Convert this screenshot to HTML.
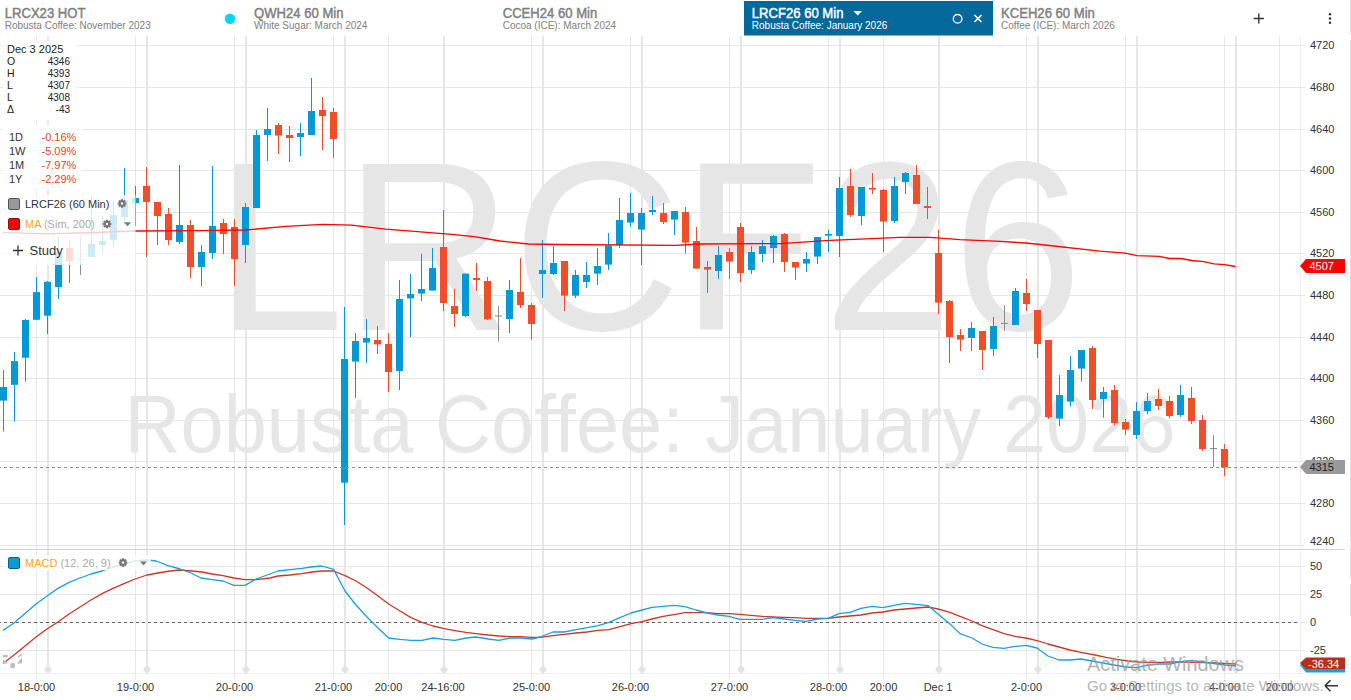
<!DOCTYPE html>
<html><head><meta charset="utf-8"><title>LRCF26 chart</title>
<style>html,body{margin:0;padding:0;background:#fff;overflow:hidden;width:1351px;height:700px}svg{display:block}</style>
</head><body>
<svg width="1351" height="700" viewBox="0 0 1351 700" font-family='"Liberation Sans", sans-serif'>
<rect width="1351" height="700" fill="#fff"/>
<line x1="0" y1="45.5" x2="1305" y2="45.5" stroke="#e6e6e6" stroke-width="1"/>
<line x1="0" y1="87.5" x2="1305" y2="87.5" stroke="#e6e6e6" stroke-width="1"/>
<line x1="0" y1="129.5" x2="1305" y2="129.5" stroke="#e6e6e6" stroke-width="1"/>
<line x1="0" y1="170.5" x2="1305" y2="170.5" stroke="#e6e6e6" stroke-width="1"/>
<line x1="0" y1="212.5" x2="1305" y2="212.5" stroke="#e6e6e6" stroke-width="1"/>
<line x1="0" y1="253.5" x2="1305" y2="253.5" stroke="#e6e6e6" stroke-width="1"/>
<line x1="0" y1="295.5" x2="1305" y2="295.5" stroke="#e6e6e6" stroke-width="1"/>
<line x1="0" y1="337.5" x2="1305" y2="337.5" stroke="#e6e6e6" stroke-width="1"/>
<line x1="0" y1="378.5" x2="1305" y2="378.5" stroke="#e6e6e6" stroke-width="1"/>
<line x1="0" y1="420.5" x2="1305" y2="420.5" stroke="#e6e6e6" stroke-width="1"/>
<line x1="0" y1="461.5" x2="1305" y2="461.5" stroke="#e6e6e6" stroke-width="1"/>
<line x1="0" y1="503.5" x2="1305" y2="503.5" stroke="#e6e6e6" stroke-width="1"/>
<line x1="0" y1="545.5" x2="1305" y2="545.5" stroke="#e6e6e6" stroke-width="1"/>
<line x1="0" y1="566.5" x2="1305" y2="566.5" stroke="#e6e6e6" stroke-width="1"/>
<line x1="0" y1="594.5" x2="1305" y2="594.5" stroke="#e6e6e6" stroke-width="1"/>
<line x1="0" y1="622.5" x2="1305" y2="622.5" stroke="#e6e6e6" stroke-width="1"/>
<line x1="0" y1="650.5" x2="1305" y2="650.5" stroke="#e6e6e6" stroke-width="1"/>
<line x1="0" y1="673.5" x2="1305" y2="673.5" stroke="#eeeeee" stroke-width="1"/>
<line x1="36.5" y1="36" x2="36.5" y2="679" stroke="#e6e6e6" stroke-width="1"/>
<line x1="135.5" y1="36" x2="135.5" y2="679" stroke="#e6e6e6" stroke-width="1"/>
<line x1="234.5" y1="36" x2="234.5" y2="679" stroke="#e6e6e6" stroke-width="1"/>
<line x1="333.5" y1="36" x2="333.5" y2="679" stroke="#e6e6e6" stroke-width="1"/>
<line x1="388.5" y1="36" x2="388.5" y2="679" stroke="#e6e6e6" stroke-width="1"/>
<line x1="531.5" y1="36" x2="531.5" y2="679" stroke="#e6e6e6" stroke-width="1"/>
<line x1="630.5" y1="36" x2="630.5" y2="679" stroke="#e6e6e6" stroke-width="1"/>
<line x1="729.5" y1="36" x2="729.5" y2="679" stroke="#e6e6e6" stroke-width="1"/>
<line x1="828.5" y1="36" x2="828.5" y2="679" stroke="#e6e6e6" stroke-width="1"/>
<line x1="883.5" y1="36" x2="883.5" y2="679" stroke="#e6e6e6" stroke-width="1"/>
<line x1="1026.5" y1="36" x2="1026.5" y2="679" stroke="#e6e6e6" stroke-width="1"/>
<line x1="1125.5" y1="36" x2="1125.5" y2="679" stroke="#e6e6e6" stroke-width="1"/>
<line x1="1224.5" y1="36" x2="1224.5" y2="679" stroke="#e6e6e6" stroke-width="1"/>
<line x1="1279.5" y1="36" x2="1279.5" y2="679" stroke="#e6e6e6" stroke-width="1"/>
<line x1="48" y1="36" x2="48" y2="670" stroke="#e6e6e6" stroke-width="2"/>
<path d="M48 665 L52 669.5 L48 674 L44 669.5Z" fill="#e3e3e3"/>
<line x1="147" y1="36" x2="147" y2="670" stroke="#e6e6e6" stroke-width="2"/>
<path d="M147 665 L151 669.5 L147 674 L143 669.5Z" fill="#e3e3e3"/>
<line x1="246" y1="36" x2="246" y2="670" stroke="#e6e6e6" stroke-width="2"/>
<path d="M246 665 L250 669.5 L246 674 L242 669.5Z" fill="#e3e3e3"/>
<line x1="345" y1="36" x2="345" y2="670" stroke="#e6e6e6" stroke-width="2"/>
<path d="M345 665 L349 669.5 L345 674 L341 669.5Z" fill="#e3e3e3"/>
<line x1="444" y1="36" x2="444" y2="670" stroke="#e6e6e6" stroke-width="2"/>
<path d="M444 665 L448 669.5 L444 674 L440 669.5Z" fill="#e3e3e3"/>
<line x1="543" y1="36" x2="543" y2="670" stroke="#e6e6e6" stroke-width="2"/>
<path d="M543 665 L547 669.5 L543 674 L539 669.5Z" fill="#e3e3e3"/>
<line x1="642" y1="36" x2="642" y2="670" stroke="#e6e6e6" stroke-width="2"/>
<path d="M642 665 L646 669.5 L642 674 L638 669.5Z" fill="#e3e3e3"/>
<line x1="741" y1="36" x2="741" y2="670" stroke="#e6e6e6" stroke-width="2"/>
<path d="M741 665 L745 669.5 L741 674 L737 669.5Z" fill="#e3e3e3"/>
<line x1="840" y1="36" x2="840" y2="670" stroke="#e6e6e6" stroke-width="2"/>
<path d="M840 665 L844 669.5 L840 674 L836 669.5Z" fill="#e3e3e3"/>
<line x1="939" y1="36" x2="939" y2="670" stroke="#e6e6e6" stroke-width="2"/>
<path d="M939 665 L943 669.5 L939 674 L935 669.5Z" fill="#e3e3e3"/>
<line x1="1038" y1="36" x2="1038" y2="670" stroke="#e6e6e6" stroke-width="2"/>
<path d="M1038 665 L1042 669.5 L1038 674 L1034 669.5Z" fill="#e3e3e3"/>
<line x1="1137" y1="36" x2="1137" y2="670" stroke="#e6e6e6" stroke-width="2"/>
<path d="M1137 665 L1141 669.5 L1137 674 L1133 669.5Z" fill="#e3e3e3"/>
<line x1="1236" y1="36" x2="1236" y2="670" stroke="#e6e6e6" stroke-width="2"/>
<path d="M1236 665 L1240 669.5 L1236 674 L1232 669.5Z" fill="#e3e3e3"/>
<line x1="1300.5" y1="36" x2="1300.5" y2="673" stroke="#f0f0f0" stroke-width="1"/>
<g transform="translate(0,330) scale(1,1.035)"><text x="214.7" y="0" font-size="233" fill="#e6e6e6">LRC</text><text x="823.2" y="0" font-size="233" fill="#e6e6e6">26</text></g><path d="M700.2 164.6 Q700.2 163.6 701.2 163.6 H811.9 Q812.9 163.6 812.9 164.6 V183.8 H723 V233.6 H799.8 Q800.8 233.6 800.8 234.6 V253.2 H723 V329.6 H700.2Z" fill="#e6e6e6"/><g transform="translate(0,452) scale(1,1.04)"><text x="650" y="0" font-size="77.6" fill="#e6e6e6" text-anchor="middle">Robusta Coffee: January 2026</text></g>
<line x1="0" y1="622.5" x2="1300" y2="622.5" stroke="#666" stroke-width="1" stroke-dasharray="3,3" stroke-dashoffset="2"/>
<line x1="0" y1="549.5" x2="1345" y2="549.5" stroke="#d4d4d4" stroke-width="1"/>
<rect x="3" y="370.0" width="1" height="61.5" fill="#0299d6"/>
<rect x="0" y="387.0" width="7" height="13.6" fill="#0299d6"/>
<rect x="14" y="352.2" width="1" height="69.5" fill="#0299d6"/>
<rect x="11" y="361.1" width="7" height="23.7" fill="#0299d6"/>
<rect x="25" y="318.9" width="1" height="62.8" fill="#0299d6"/>
<rect x="22" y="320.0" width="7" height="37.7" fill="#0299d6"/>
<rect x="36" y="277.1" width="1" height="42.7" fill="#0299d6"/>
<rect x="33" y="292.1" width="7" height="27.7" fill="#0299d6"/>
<rect x="47" y="281.2" width="1" height="52.9" fill="#0299d6"/>
<rect x="44" y="281.8" width="7" height="33.9" fill="#0299d6"/>
<rect x="58" y="237.0" width="1" height="61.9" fill="#0299d6"/>
<rect x="55" y="252.0" width="7" height="35.0" fill="#0299d6"/>
<rect x="69" y="240.0" width="1" height="43.0" fill="#f04e2b"/>
<rect x="66" y="248.0" width="7" height="13.0" fill="#f04e2b"/>
<rect x="80" y="236.0" width="1" height="39.0" fill="#8c8c8c"/>
<rect x="77" y="259.1" width="7" height="1" fill="#8c8c8c"/>
<rect x="91" y="197.0" width="1" height="60.0" fill="#0299d6"/>
<rect x="88" y="244.0" width="7" height="13.0" fill="#0299d6"/>
<rect x="102" y="216.0" width="1" height="38.0" fill="#0299d6"/>
<rect x="99" y="241.0" width="7" height="4.0" fill="#0299d6"/>
<rect x="113" y="201.0" width="1" height="45.0" fill="#0299d6"/>
<rect x="110" y="215.0" width="7" height="25.0" fill="#0299d6"/>
<rect x="124" y="168.0" width="1" height="57.0" fill="#0299d6"/>
<rect x="121" y="200.0" width="7" height="17.0" fill="#0299d6"/>
<rect x="135" y="186.0" width="1" height="40.0" fill="#0299d6"/>
<rect x="132" y="198.0" width="7" height="5.0" fill="#0299d6"/>
<rect x="146" y="167.0" width="1" height="90.0" fill="#f04e2b"/>
<rect x="143" y="186.0" width="7" height="16.0" fill="#f04e2b"/>
<rect x="157" y="202.0" width="1" height="43.0" fill="#f04e2b"/>
<rect x="154" y="202.0" width="7" height="14.0" fill="#f04e2b"/>
<rect x="168" y="208.0" width="1" height="37.0" fill="#f04e2b"/>
<rect x="165" y="214.0" width="7" height="26.0" fill="#f04e2b"/>
<rect x="179" y="165.0" width="1" height="79.0" fill="#0299d6"/>
<rect x="176" y="225.0" width="7" height="17.0" fill="#0299d6"/>
<rect x="190" y="220.0" width="1" height="58.0" fill="#f04e2b"/>
<rect x="187" y="225.0" width="7" height="42.0" fill="#f04e2b"/>
<rect x="201" y="245.0" width="1" height="41.0" fill="#0299d6"/>
<rect x="198" y="252.0" width="7" height="15.0" fill="#0299d6"/>
<rect x="212" y="166.0" width="1" height="93.0" fill="#0299d6"/>
<rect x="209" y="226.0" width="7" height="27.0" fill="#0299d6"/>
<rect x="223" y="219.0" width="1" height="35.0" fill="#f04e2b"/>
<rect x="220" y="223.0" width="7" height="11.0" fill="#f04e2b"/>
<rect x="234" y="219.0" width="1" height="67.0" fill="#f04e2b"/>
<rect x="231" y="227.0" width="7" height="32.0" fill="#f04e2b"/>
<rect x="245" y="203.0" width="1" height="60.0" fill="#0299d6"/>
<rect x="242" y="207.0" width="7" height="38.0" fill="#0299d6"/>
<rect x="256" y="130.0" width="1" height="78.0" fill="#0299d6"/>
<rect x="253" y="135.0" width="7" height="73.0" fill="#0299d6"/>
<rect x="267" y="108.0" width="1" height="53.0" fill="#0299d6"/>
<rect x="264" y="129.0" width="7" height="6.0" fill="#0299d6"/>
<rect x="278" y="123.0" width="1" height="31.0" fill="#f04e2b"/>
<rect x="275" y="125.0" width="7" height="10.6" fill="#f04e2b"/>
<rect x="289" y="126.0" width="1" height="36.0" fill="#f04e2b"/>
<rect x="286" y="135.0" width="7" height="3.0" fill="#f04e2b"/>
<rect x="300" y="123.0" width="1" height="33.0" fill="#0299d6"/>
<rect x="297" y="133.0" width="7" height="4.0" fill="#0299d6"/>
<rect x="311" y="78.0" width="1" height="57.0" fill="#0299d6"/>
<rect x="308" y="111.0" width="7" height="24.0" fill="#0299d6"/>
<rect x="322" y="97.0" width="1" height="53.0" fill="#f04e2b"/>
<rect x="319" y="110.0" width="7" height="6.0" fill="#f04e2b"/>
<rect x="333" y="108.0" width="1" height="50.0" fill="#f04e2b"/>
<rect x="330" y="112.0" width="7" height="27.0" fill="#f04e2b"/>
<rect x="344" y="307.0" width="1" height="218.0" fill="#0299d6"/>
<rect x="341" y="359.0" width="7" height="123.7" fill="#0299d6"/>
<rect x="355" y="333.0" width="1" height="65.0" fill="#0299d6"/>
<rect x="352" y="341.0" width="7" height="20.6" fill="#0299d6"/>
<rect x="366" y="319.0" width="1" height="44.0" fill="#0299d6"/>
<rect x="363" y="338.0" width="7" height="4.6" fill="#0299d6"/>
<rect x="377" y="326.0" width="1" height="28.0" fill="#f04e2b"/>
<rect x="374" y="340.0" width="7" height="4.4" fill="#f04e2b"/>
<rect x="388" y="333.0" width="1" height="59.0" fill="#f04e2b"/>
<rect x="385" y="344.0" width="7" height="28.0" fill="#f04e2b"/>
<rect x="399" y="280.0" width="1" height="110.0" fill="#0299d6"/>
<rect x="396" y="299.0" width="7" height="72.0" fill="#0299d6"/>
<rect x="410" y="274.0" width="1" height="63.0" fill="#0299d6"/>
<rect x="407" y="294.0" width="7" height="4.4" fill="#0299d6"/>
<rect x="421" y="254.0" width="1" height="47.0" fill="#0299d6"/>
<rect x="418" y="289.0" width="7" height="4.6" fill="#0299d6"/>
<rect x="432" y="248.0" width="1" height="42.6" fill="#0299d6"/>
<rect x="429" y="268.0" width="7" height="22.6" fill="#0299d6"/>
<rect x="443" y="210.0" width="1" height="101.0" fill="#f04e2b"/>
<rect x="440" y="247.0" width="7" height="56.0" fill="#f04e2b"/>
<rect x="454" y="289.0" width="1" height="38.0" fill="#f04e2b"/>
<rect x="451" y="306.0" width="7" height="8.0" fill="#f04e2b"/>
<rect x="465" y="273.6" width="1" height="43.4" fill="#0299d6"/>
<rect x="462" y="273.6" width="7" height="42.4" fill="#0299d6"/>
<rect x="476" y="263.0" width="1" height="28.0" fill="#f04e2b"/>
<rect x="473" y="278.0" width="7" height="2.0" fill="#f04e2b"/>
<rect x="487" y="277.0" width="1" height="43.0" fill="#f04e2b"/>
<rect x="484" y="281.0" width="7" height="38.4" fill="#f04e2b"/>
<rect x="498" y="306.0" width="1" height="35.6" fill="#8c8c8c"/>
<rect x="495" y="315.5" width="7" height="1" fill="#8c8c8c"/>
<rect x="509" y="280.0" width="1" height="53.0" fill="#0299d6"/>
<rect x="506" y="290.0" width="7" height="29.0" fill="#0299d6"/>
<rect x="520" y="258.0" width="1" height="50.0" fill="#f04e2b"/>
<rect x="517" y="292.0" width="7" height="13.0" fill="#f04e2b"/>
<rect x="531" y="303.0" width="1" height="36.6" fill="#f04e2b"/>
<rect x="528" y="305.0" width="7" height="19.0" fill="#f04e2b"/>
<rect x="542" y="240.0" width="1" height="58.0" fill="#0299d6"/>
<rect x="539" y="270.0" width="7" height="4.0" fill="#0299d6"/>
<rect x="553" y="246.0" width="1" height="29.0" fill="#0299d6"/>
<rect x="550" y="263.0" width="7" height="11.0" fill="#0299d6"/>
<rect x="564" y="261.0" width="1" height="50.0" fill="#f04e2b"/>
<rect x="561" y="261.0" width="7" height="34.6" fill="#f04e2b"/>
<rect x="575" y="270.0" width="1" height="28.0" fill="#0299d6"/>
<rect x="572" y="275.0" width="7" height="20.6" fill="#0299d6"/>
<rect x="586" y="262.0" width="1" height="26.0" fill="#0299d6"/>
<rect x="583" y="275.0" width="7" height="7.0" fill="#0299d6"/>
<rect x="597" y="248.0" width="1" height="37.0" fill="#0299d6"/>
<rect x="594" y="266.0" width="7" height="7.6" fill="#0299d6"/>
<rect x="608" y="233.0" width="1" height="37.0" fill="#0299d6"/>
<rect x="605" y="245.6" width="7" height="19.0" fill="#0299d6"/>
<rect x="619" y="198.0" width="1" height="50.0" fill="#0299d6"/>
<rect x="616" y="220.0" width="7" height="25.0" fill="#0299d6"/>
<rect x="630" y="193.0" width="1" height="34.0" fill="#0299d6"/>
<rect x="627" y="213.0" width="7" height="9.6" fill="#0299d6"/>
<rect x="641" y="208.0" width="1" height="57.0" fill="#0299d6"/>
<rect x="638" y="213.0" width="7" height="16.6" fill="#0299d6"/>
<rect x="652" y="196.0" width="1" height="19.0" fill="#0299d6"/>
<rect x="649" y="210.0" width="7" height="2.0" fill="#0299d6"/>
<rect x="663" y="203.0" width="1" height="21.0" fill="#f04e2b"/>
<rect x="660" y="213.0" width="7" height="9.0" fill="#f04e2b"/>
<rect x="674" y="211.0" width="1" height="24.0" fill="#0299d6"/>
<rect x="671" y="211.0" width="7" height="8.6" fill="#0299d6"/>
<rect x="685" y="207.0" width="1" height="46.6" fill="#f04e2b"/>
<rect x="682" y="212.0" width="7" height="30.6" fill="#f04e2b"/>
<rect x="696" y="227.0" width="1" height="41.6" fill="#f04e2b"/>
<rect x="693" y="241.0" width="7" height="27.6" fill="#f04e2b"/>
<rect x="707" y="261.0" width="1" height="32.0" fill="#f04e2b"/>
<rect x="704" y="267.0" width="7" height="2.6" fill="#f04e2b"/>
<rect x="718" y="246.0" width="1" height="33.0" fill="#0299d6"/>
<rect x="715" y="255.0" width="7" height="16.0" fill="#0299d6"/>
<rect x="729" y="248.0" width="1" height="31.0" fill="#f04e2b"/>
<rect x="726" y="252.0" width="7" height="9.6" fill="#f04e2b"/>
<rect x="740" y="223.0" width="1" height="59.0" fill="#f04e2b"/>
<rect x="737" y="227.0" width="7" height="46.0" fill="#f04e2b"/>
<rect x="751" y="246.0" width="1" height="28.0" fill="#0299d6"/>
<rect x="748" y="252.0" width="7" height="18.0" fill="#0299d6"/>
<rect x="762" y="240.0" width="1" height="22.0" fill="#0299d6"/>
<rect x="759" y="246.0" width="7" height="8.0" fill="#0299d6"/>
<rect x="773" y="235.0" width="1" height="28.0" fill="#0299d6"/>
<rect x="770" y="236.0" width="7" height="12.0" fill="#0299d6"/>
<rect x="784" y="233.0" width="1" height="39.0" fill="#f04e2b"/>
<rect x="781" y="234.0" width="7" height="28.0" fill="#f04e2b"/>
<rect x="795" y="262.0" width="1" height="18.0" fill="#f04e2b"/>
<rect x="792" y="262.0" width="7" height="5.6" fill="#f04e2b"/>
<rect x="806" y="252.0" width="1" height="20.0" fill="#0299d6"/>
<rect x="803" y="259.0" width="7" height="4.6" fill="#0299d6"/>
<rect x="817" y="237.0" width="1" height="27.0" fill="#0299d6"/>
<rect x="814" y="237.0" width="7" height="19.6" fill="#0299d6"/>
<rect x="828" y="230.0" width="1" height="22.0" fill="#0299d6"/>
<rect x="825" y="234.0" width="7" height="1.6" fill="#0299d6"/>
<rect x="839" y="177.0" width="1" height="80.0" fill="#0299d6"/>
<rect x="836" y="188.0" width="7" height="48.0" fill="#0299d6"/>
<rect x="850" y="169.0" width="1" height="48.0" fill="#f04e2b"/>
<rect x="847" y="186.0" width="7" height="29.0" fill="#f04e2b"/>
<rect x="861" y="187.0" width="1" height="38.0" fill="#0299d6"/>
<rect x="858" y="187.0" width="7" height="29.0" fill="#0299d6"/>
<rect x="872" y="173.0" width="1" height="21.0" fill="#f04e2b"/>
<rect x="869" y="188.0" width="7" height="1.6" fill="#f04e2b"/>
<rect x="883" y="189.0" width="1" height="63.0" fill="#f04e2b"/>
<rect x="880" y="190.0" width="7" height="31.6" fill="#f04e2b"/>
<rect x="894" y="177.0" width="1" height="46.0" fill="#0299d6"/>
<rect x="891" y="186.0" width="7" height="35.0" fill="#0299d6"/>
<rect x="905" y="172.0" width="1" height="22.0" fill="#0299d6"/>
<rect x="902" y="173.0" width="7" height="9.0" fill="#0299d6"/>
<rect x="916" y="165.0" width="1" height="39.0" fill="#f04e2b"/>
<rect x="913" y="175.0" width="7" height="29.0" fill="#f04e2b"/>
<rect x="927" y="187.0" width="1" height="32.0" fill="#f04e2b"/>
<rect x="924" y="206.0" width="7" height="2.0" fill="#f04e2b"/>
<rect x="938" y="230.0" width="1" height="84.0" fill="#f04e2b"/>
<rect x="935" y="253.0" width="7" height="49.6" fill="#f04e2b"/>
<rect x="949" y="300.0" width="1" height="63.0" fill="#f04e2b"/>
<rect x="946" y="301.0" width="7" height="36.0" fill="#f04e2b"/>
<rect x="960" y="329.0" width="1" height="22.0" fill="#f04e2b"/>
<rect x="957" y="335.0" width="7" height="4.6" fill="#f04e2b"/>
<rect x="971" y="322.0" width="1" height="29.0" fill="#0299d6"/>
<rect x="968" y="328.0" width="7" height="10.0" fill="#0299d6"/>
<rect x="982" y="331.0" width="1" height="39.0" fill="#f04e2b"/>
<rect x="979" y="331.0" width="7" height="19.0" fill="#f04e2b"/>
<rect x="993" y="317.0" width="1" height="39.0" fill="#0299d6"/>
<rect x="990" y="326.0" width="7" height="23.0" fill="#0299d6"/>
<rect x="1004" y="305.0" width="1" height="26.0" fill="#8c8c8c"/>
<rect x="1001" y="322.9" width="7" height="1" fill="#8c8c8c"/>
<rect x="1015" y="288.0" width="1" height="37.0" fill="#0299d6"/>
<rect x="1012" y="291.0" width="7" height="34.0" fill="#0299d6"/>
<rect x="1026" y="279.0" width="1" height="32.0" fill="#f04e2b"/>
<rect x="1023" y="293.0" width="7" height="11.0" fill="#f04e2b"/>
<rect x="1037" y="310.0" width="1" height="48.0" fill="#f04e2b"/>
<rect x="1034" y="310.0" width="7" height="34.0" fill="#f04e2b"/>
<rect x="1048" y="340.0" width="1" height="79.0" fill="#f04e2b"/>
<rect x="1045" y="340.0" width="7" height="77.0" fill="#f04e2b"/>
<rect x="1059" y="375.0" width="1" height="51.0" fill="#0299d6"/>
<rect x="1056" y="395.0" width="7" height="23.6" fill="#0299d6"/>
<rect x="1070" y="356.0" width="1" height="50.6" fill="#0299d6"/>
<rect x="1067" y="370.0" width="7" height="31.6" fill="#0299d6"/>
<rect x="1081" y="350.0" width="1" height="31.6" fill="#0299d6"/>
<rect x="1078" y="350.0" width="7" height="18.6" fill="#0299d6"/>
<rect x="1092" y="346.0" width="1" height="63.0" fill="#f04e2b"/>
<rect x="1089" y="348.0" width="7" height="52.0" fill="#f04e2b"/>
<rect x="1103" y="387.0" width="1" height="30.6" fill="#0299d6"/>
<rect x="1100" y="392.0" width="7" height="7.0" fill="#0299d6"/>
<rect x="1114" y="385.0" width="1" height="40.6" fill="#f04e2b"/>
<rect x="1111" y="390.0" width="7" height="33.0" fill="#f04e2b"/>
<rect x="1125" y="419.0" width="1" height="16.0" fill="#f04e2b"/>
<rect x="1122" y="422.0" width="7" height="7.6" fill="#f04e2b"/>
<rect x="1136" y="402.0" width="1" height="37.0" fill="#0299d6"/>
<rect x="1133" y="411.0" width="7" height="24.0" fill="#0299d6"/>
<rect x="1147" y="393.0" width="1" height="21.0" fill="#0299d6"/>
<rect x="1144" y="401.0" width="7" height="10.0" fill="#0299d6"/>
<rect x="1158" y="389.0" width="1" height="21.0" fill="#f04e2b"/>
<rect x="1155" y="399.0" width="7" height="7.0" fill="#f04e2b"/>
<rect x="1169" y="396.0" width="1" height="22.0" fill="#f04e2b"/>
<rect x="1166" y="401.0" width="7" height="15.0" fill="#f04e2b"/>
<rect x="1180" y="385.0" width="1" height="32.0" fill="#0299d6"/>
<rect x="1177" y="395.0" width="7" height="20.0" fill="#0299d6"/>
<rect x="1191" y="387.0" width="1" height="37.0" fill="#f04e2b"/>
<rect x="1188" y="398.0" width="7" height="23.0" fill="#f04e2b"/>
<rect x="1202" y="415.0" width="1" height="36.0" fill="#f04e2b"/>
<rect x="1199" y="420.0" width="7" height="29.0" fill="#f04e2b"/>
<rect x="1213" y="435.0" width="1" height="32.0" fill="#8c8c8c"/>
<rect x="1210" y="448.0" width="7" height="1" fill="#8c8c8c"/>
<rect x="1224" y="444.0" width="1" height="32.0" fill="#f04e2b"/>
<rect x="1221" y="449.0" width="7" height="18.5" fill="#f04e2b"/>
<line x1="0" y1="467.5" x2="1300" y2="467.5" stroke="#8a8a8a" stroke-width="1" stroke-dasharray="3,3" stroke-dashoffset="2"/>
<polyline points="3.0,232.3 44.0,233.9 80.0,233.0 135.0,231.0 200.0,230.6 245.7,230.0 285.7,226.3 322.9,224.3 351.4,225.1 385.7,229.1 414.3,231.4 451.4,234.3 474.3,236.6 500.0,241.0 528.6,244.0 560.0,244.5 676.0,245.4 700.0,244.0 780.0,243.6 830.0,240.4 860.0,239.2 900.0,237.4 930.0,237.4 960.0,239.6 1000.0,241.4 1026.0,243.0 1040.0,244.5 1100.0,251.2 1125.2,253.1 1137.0,255.6 1159.2,256.4 1169.6,258.5 1180.7,258.5 1191.8,260.5 1203.6,261.7 1214.0,263.8 1224.4,264.7 1235.5,266.5" fill="none" stroke="#ff0000" stroke-width="1.3" stroke-linejoin="round"/>
<polyline points="3.0,663.6 14.0,655.0 25.0,646.0 36.0,637.0 47.0,629.0 58.0,622.0 69.0,614.0 80.0,607.0 91.0,600.0 102.0,593.6 113.0,588.4 124.0,583.6 135.0,579.0 147.0,575.0 158.0,573.0 170.0,571.0 180.0,570.0 192.0,571.0 202.0,572.0 212.0,574.0 223.0,575.6 234.0,578.0 245.0,579.6 256.0,579.6 270.0,578.0 278.0,576.0 290.0,575.0 302.0,573.6 312.0,572.0 322.0,571.0 333.6,571.0 345.0,575.6 356.0,581.0 367.0,588.0 378.0,596.0 388.6,604.0 400.0,611.0 411.0,617.6 422.0,622.4 433.0,626.0 444.0,628.6 455.0,630.6 466.0,632.4 476.0,633.6 488.0,635.0 499.0,636.0 510.0,636.6 521.0,636.6 532.0,637.4 540.0,637.4 553.0,635.6 564.0,634.4 576.0,633.0 587.0,632.0 598.0,630.4 609.0,629.6 620.0,626.6 631.0,623.6 642.0,621.6 652.0,619.0 663.0,616.4 674.0,614.6 685.0,612.6 696.0,612.6 707.0,612.6 718.0,613.6 729.0,613.6 740.0,614.4 751.0,615.4 762.0,616.4 773.0,617.0 784.0,617.4 795.0,617.6 806.0,618.4 828.0,618.4 839.0,617.0 850.0,616.0 861.0,615.0 872.0,613.0 883.0,612.0 894.0,610.0 905.0,609.0 916.0,608.0 928.0,607.0 938.0,609.0 950.0,612.4 960.0,616.4 972.0,621.0 982.0,625.6 993.0,629.6 1004.0,633.6 1015.0,636.4 1026.0,638.0 1037.0,640.6 1048.0,644.0 1059.0,647.0 1070.0,650.0 1081.0,652.4 1095.0,655.0 1106.0,657.4 1117.0,659.4 1128.0,661.0 1139.0,662.0 1150.0,662.4 1161.0,662.4 1172.0,662.0 1183.0,662.0 1194.0,662.4 1205.0,662.6 1216.0,663.0 1227.0,663.6 1236.0,664.0" fill="none" stroke="#c8382a" stroke-width="1.3" stroke-linejoin="round"/><polyline points="3.0,630.4 14.0,623.0 25.0,613.6 36.0,604.0 47.0,596.0 58.0,588.4 69.0,582.4 80.0,578.0 91.0,574.0 102.0,571.0 113.0,567.0 124.0,564.0 135.0,561.0 147.0,560.0 156.0,561.0 168.0,565.6 180.0,569.0 191.0,573.0 201.0,578.0 212.0,579.6 223.0,581.0 234.0,585.4 245.0,585.4 256.0,579.0 270.0,574.0 278.0,571.0 290.0,569.6 302.0,568.4 311.0,567.0 322.0,566.0 333.6,569.4 345.0,591.0 356.0,605.0 367.0,617.0 378.0,628.0 388.6,638.0 400.0,639.4 411.0,640.4 422.0,640.4 433.0,638.0 444.0,639.4 455.0,640.4 466.0,638.0 476.0,637.0 488.0,639.0 499.0,640.4 510.0,638.0 521.0,638.0 532.0,639.0 540.0,637.0 553.0,632.0 564.0,632.0 576.0,629.6 587.0,627.6 598.0,625.6 609.0,622.4 620.0,617.6 631.0,613.0 642.0,610.0 652.0,607.4 663.0,606.4 674.0,605.4 685.0,606.6 696.0,610.0 707.0,613.0 718.0,615.0 729.0,616.4 740.0,619.4 751.0,619.4 762.0,619.4 773.0,617.6 784.0,619.0 795.0,620.4 806.0,621.4 818.0,619.0 828.0,618.4 839.0,613.6 850.0,612.4 861.0,608.4 872.0,606.4 883.0,607.6 894.0,605.4 905.0,603.4 916.0,604.4 928.0,605.6 938.0,614.0 950.0,624.0 960.0,633.6 972.0,638.0 982.0,644.0 993.0,647.4 1004.0,648.4 1015.0,646.4 1026.0,645.4 1037.0,648.0 1048.0,656.0 1059.0,660.0 1070.0,660.0 1081.0,659.0 1092.0,661.0 1103.0,663.0 1114.0,665.0 1126.0,667.0 1137.0,667.6 1148.0,665.0 1159.0,664.0 1170.0,664.0 1181.0,661.6 1192.0,660.4 1203.0,662.0 1214.0,663.6 1225.0,665.0 1236.0,666.0" fill="none" stroke="#1aa0da" stroke-width="1.3" stroke-linejoin="round"/>
<text x="1310" y="49" font-size="11" fill="#333">4720</text>
<text x="1310" y="91" font-size="11" fill="#333">4680</text>
<text x="1310" y="133" font-size="11" fill="#333">4640</text>
<text x="1310" y="174" font-size="11" fill="#333">4600</text>
<text x="1310" y="216" font-size="11" fill="#333">4560</text>
<text x="1310" y="257" font-size="11" fill="#333">4520</text>
<text x="1310" y="299" font-size="11" fill="#333">4480</text>
<text x="1310" y="341" font-size="11" fill="#333">4440</text>
<text x="1310" y="382" font-size="11" fill="#333">4400</text>
<text x="1310" y="424" font-size="11" fill="#333">4360</text>
<text x="1310" y="465" font-size="11" fill="#333">4320</text>
<text x="1310" y="507" font-size="11" fill="#333">4280</text>
<text x="1310" y="545" font-size="11" fill="#333">4240</text>
<text x="1310" y="570" font-size="11" fill="#333">50</text>
<text x="1310" y="598" font-size="11" fill="#333">25</text>
<text x="1310" y="626" font-size="11" fill="#333">0</text>
<text x="1310" y="654" font-size="11" fill="#333">-25</text>
<text x="36.5" y="690.5" font-size="11" fill="#333" text-anchor="middle">18-0:00</text>
<text x="135.5" y="690.5" font-size="11" fill="#333" text-anchor="middle">19-0:00</text>
<text x="234.5" y="690.5" font-size="11" fill="#333" text-anchor="middle">20-0:00</text>
<text x="333.5" y="690.5" font-size="11" fill="#333" text-anchor="middle">21-0:00</text>
<text x="388.5" y="690.5" font-size="11" fill="#333" text-anchor="middle">20:00</text>
<text x="443" y="690.5" font-size="11" fill="#333" text-anchor="middle">24-16:00</text>
<text x="531.5" y="690.5" font-size="11" fill="#333" text-anchor="middle">25-0:00</text>
<text x="630.5" y="690.5" font-size="11" fill="#333" text-anchor="middle">26-0:00</text>
<text x="729.5" y="690.5" font-size="11" fill="#333" text-anchor="middle">27-0:00</text>
<text x="828.5" y="690.5" font-size="11" fill="#333" text-anchor="middle">28-0:00</text>
<text x="883.5" y="690.5" font-size="11" fill="#333" text-anchor="middle">20:00</text>
<text x="938" y="690.5" font-size="11" fill="#333" text-anchor="middle">Dec 1</text>
<text x="1026.5" y="690.5" font-size="11" fill="#333" text-anchor="middle">2-0:00</text>
<text x="1125.5" y="690.5" font-size="11" fill="#333" text-anchor="middle">3-0:00</text>
<text x="1224.5" y="690.5" font-size="11" fill="#333" text-anchor="middle">4-0:00</text>
<text x="1279.5" y="690.5" font-size="11" fill="#333" text-anchor="middle">20:00</text>
<path d="M1300 266 L1306 259 L1345 259 L1345 273 L1306 273Z" fill="#ff0000"/><text x="1309.5" y="270" font-size="11" fill="#fff">4507</text><path d="M1300 467 L1306 460 L1345 460 L1345 474 L1306 474Z" fill="#999999"/><text x="1309.5" y="471" font-size="11" fill="#222">4315</text><path d="M1300 665 L1306 661 L1345 661 L1345 672.5 L1306 672.5Z" fill="#1aa0da"/><path d="M1300 663 L1306 657.5 L1345 657.5 L1345 669 L1306 669Z" fill="#b92d1f"/><text x="1308" y="667.5" font-size="11" fill="#fff">-36.34</text>
<rect x="3" y="41" width="75" height="79" fill="#fff"/>
<rect x="3" y="125" width="79" height="65" fill="#fff"/>
<rect x="0" y="195" width="135.5" height="70" fill="#fff" fill-opacity="0.8"/>
<text x="7" y="53" font-size="11" fill="#222">Dec 3 2025</text>
<text x="7" y="65" font-size="10.5" fill="#222">O</text><text x="70" y="65" font-size="10" fill="#222" text-anchor="end">4346</text>
<text x="7" y="77" font-size="10.5" fill="#222">H</text><text x="70" y="77" font-size="10" fill="#222" text-anchor="end">4393</text>
<text x="7" y="89" font-size="10.5" fill="#222">L</text><text x="70" y="89" font-size="10" fill="#222" text-anchor="end">4307</text>
<text x="7" y="101" font-size="10.5" fill="#222">L</text><text x="70" y="101" font-size="10" fill="#222" text-anchor="end">4308</text>
<text x="7" y="113" font-size="10.5" fill="#222">Δ</text><text x="70" y="113" font-size="10" fill="#222" text-anchor="end">-43</text>
<text x="9" y="140.7" font-size="11" fill="#333">1D</text><text x="41.5" y="140.7" font-size="11" fill="#e8402a">-0.16%</text>
<text x="9" y="154.7" font-size="11" fill="#333">1W</text><text x="41.5" y="154.7" font-size="11" fill="#e8402a">-5.09%</text>
<text x="9" y="168.7" font-size="11" fill="#333">1M</text><text x="41.5" y="168.7" font-size="11" fill="#e8402a">-7.97%</text>
<text x="9" y="182.7" font-size="11" fill="#333">1Y</text><text x="41.5" y="182.7" font-size="11" fill="#e8402a">-2.29%</text>
<rect x="8.5" y="198.5" width="11" height="11" rx="1.5" fill="#999" stroke="#555" stroke-width="1"/>
<text x="25" y="207.7" font-size="11" fill="#333">LRCF26 (60 Min)</text>
<g transform="translate(122,203.5)" fill="#777"><circle r="3"/><rect x="-1.1" y="-4.3" width="2.2" height="2.3" transform="rotate(0)"/><rect x="-1.1" y="-4.3" width="2.2" height="2.3" transform="rotate(45)"/><rect x="-1.1" y="-4.3" width="2.2" height="2.3" transform="rotate(90)"/><rect x="-1.1" y="-4.3" width="2.2" height="2.3" transform="rotate(135)"/><rect x="-1.1" y="-4.3" width="2.2" height="2.3" transform="rotate(180)"/><rect x="-1.1" y="-4.3" width="2.2" height="2.3" transform="rotate(225)"/><rect x="-1.1" y="-4.3" width="2.2" height="2.3" transform="rotate(270)"/><rect x="-1.1" y="-4.3" width="2.2" height="2.3" transform="rotate(315)"/><circle r="1.2" fill="#fff"/></g>
<rect x="8.5" y="218.5" width="11" height="11" rx="1.5" fill="#ff0000" stroke="#8b1010" stroke-width="1"/>
<text x="25" y="227.5" font-size="11" fill="#f5a623">MA <tspan fill="#aaa">(Sim, 200)</tspan></text>
<g transform="translate(107,224)" fill="#777"><circle r="3"/><rect x="-1.1" y="-4.3" width="2.2" height="2.3" transform="rotate(0)"/><rect x="-1.1" y="-4.3" width="2.2" height="2.3" transform="rotate(45)"/><rect x="-1.1" y="-4.3" width="2.2" height="2.3" transform="rotate(90)"/><rect x="-1.1" y="-4.3" width="2.2" height="2.3" transform="rotate(135)"/><rect x="-1.1" y="-4.3" width="2.2" height="2.3" transform="rotate(180)"/><rect x="-1.1" y="-4.3" width="2.2" height="2.3" transform="rotate(225)"/><rect x="-1.1" y="-4.3" width="2.2" height="2.3" transform="rotate(270)"/><rect x="-1.1" y="-4.3" width="2.2" height="2.3" transform="rotate(315)"/><circle r="1.2" fill="#fff"/></g>
<path d="M124 222.3 L131 222.3 L127.5 226.3Z" fill="#777"/>
<path d="M13 250.5 H23 M18 245.5 V255.5" stroke="#333" stroke-width="1.3"/>
<text x="29.5" y="255" font-size="13" fill="#333">Study</text>
<rect x="3" y="555" width="148" height="15" fill="#fff" fill-opacity="0.8"/>
<rect x="8.5" y="557.5" width="11" height="11" rx="1.5" fill="#0a9ad5" stroke="#1a5a80" stroke-width="1"/>
<text x="25" y="566.7" font-size="11" fill="#f5a623">MACD <tspan fill="#aaa">(12, 26, 9)</tspan></text>
<g transform="translate(123,562.6)" fill="#777"><circle r="3"/><rect x="-1.1" y="-4.3" width="2.2" height="2.3" transform="rotate(0)"/><rect x="-1.1" y="-4.3" width="2.2" height="2.3" transform="rotate(45)"/><rect x="-1.1" y="-4.3" width="2.2" height="2.3" transform="rotate(90)"/><rect x="-1.1" y="-4.3" width="2.2" height="2.3" transform="rotate(135)"/><rect x="-1.1" y="-4.3" width="2.2" height="2.3" transform="rotate(180)"/><rect x="-1.1" y="-4.3" width="2.2" height="2.3" transform="rotate(225)"/><rect x="-1.1" y="-4.3" width="2.2" height="2.3" transform="rotate(270)"/><rect x="-1.1" y="-4.3" width="2.2" height="2.3" transform="rotate(315)"/><circle r="1.2" fill="#fff"/></g>
<path d="M140 561.5 L147 561.5 L143.5 565.5Z" fill="#777"/>
<g fill="#bdbdbd"><rect x="3" y="655" width="4.7" height="2.3"/><path d="M3 659 L7.7 663.5 L3 663.5Z"/><rect x="10.3" y="663.3" width="4.7" height="4.5"/><path d="M17 663.6 L22 657.5 L22 663.6Z"/><path d="M17.5 656.5 L22 653.3 L22 655 L18.5 657.5Z"/></g>
<g transform="translate(4.7,0) scale(0.95,1)"><text x="0" y="17.7" font-size="13.8" fill="#808080" stroke="#808080" stroke-width="0.45">LRCX23 HOT</text></g><text x="4.7" y="28.7" font-size="10" fill="#808080">Robusta Coffee: November 2023</text>
<circle cx="230" cy="18.8" r="5.2" fill="#00d4f8"/>
<g transform="translate(254,0) scale(0.95,1)"><text x="0" y="17.7" font-size="13.8" fill="#808080" stroke="#808080" stroke-width="0.45">QWH24 60 Min</text></g><text x="254" y="28.7" font-size="10" fill="#808080">White Sugar: March 2024</text>
<g transform="translate(502.7,0) scale(0.95,1)"><text x="0" y="17.7" font-size="13.8" fill="#808080" stroke="#808080" stroke-width="0.45">CCEH24 60 Min</text></g><text x="502.7" y="28.7" font-size="10" fill="#808080">Cocoa (ICE): March 2024</text>
<rect x="744" y="1" width="249" height="34.5" fill="#03689a"/>
<g transform="translate(751.8,0) scale(0.95,1)"><text x="0" y="17.7" font-size="13.8" fill="#fff" stroke="#fff" stroke-width="0.45">LRCF26 60 Min</text></g><text x="751.8" y="28.7" font-size="10" fill="#fff">Robusta Coffee: January 2026</text>
<path d="M853.5 11 L862 11 L857.75 15.5Z" fill="#fff"/>
<circle cx="957.6" cy="18.8" r="4.3" fill="none" stroke="#fff" stroke-width="1.3"/>
<path d="M974.5 15 L981.5 22 M981.5 15 L974.5 22" stroke="#fff" stroke-width="1.6"/>
<g transform="translate(1001,0) scale(0.95,1)"><text x="0" y="17.7" font-size="13.8" fill="#808080" stroke="#808080" stroke-width="0.45">KCEH26 60 Min</text></g><text x="1001" y="28.7" font-size="10" fill="#808080">Coffee (ICE): March 2026</text>
<path d="M1253.7 18.5 H1263.9 M1258.8 13.4 V23.6" stroke="#333" stroke-width="1.4"/>
<g fill="#333"><circle cx="1330" cy="14.3" r="1.2"/><circle cx="1330" cy="18.5" r="1.2"/><circle cx="1330" cy="22.8" r="1.2"/></g>
<text x="1087" y="671" font-size="19.9" fill="#9a9a9a" fill-opacity="0.75">Activate Windows</text><text x="1087" y="691" font-size="15" fill="#9a9a9a" fill-opacity="0.75">Go to Settings to activate Windows.</text><path d="M1325 685.8 H1338 M1325 685.8 L1330.5 680.3 M1325 685.8 L1330.5 691.3" stroke="#333" stroke-width="1.6" fill="none"/>
<path d="M1350.5 0 V35 M1350.5 39.5 V541 M1350.5 546 V579 M1350.5 584 V616" stroke="#e0e0e0" stroke-width="1"/>
</svg>
</body></html>
